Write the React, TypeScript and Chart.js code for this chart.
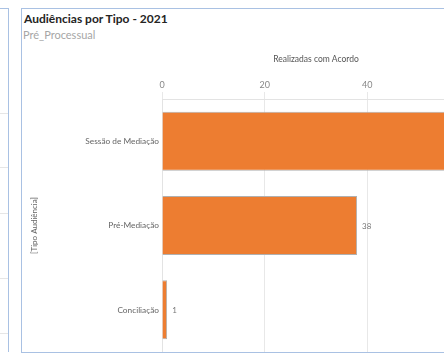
import React, { useEffect, useRef } from "react";
import { Chart, registerables } from "chart.js";

Chart.register(...registerables);

const categories = ["Sessão de Mediação", "Pré-Mediação", "Conciliação"];
const values = [57, 38, 1];
const xTicks = [0, 20, 40, 60];
const chartTitle = "Audiências por Tipo - 2021";
const chartSubtitle = "Pré_Processual";
const xAxisTitle = "Realizadas com Acordo";
const yAxisTitle = "[Tipo Audiência]";

const FONT = "Lato, 'Noto Sans', sans-serif";

const valueLabels = {
  id: "valueLabels",
  afterDatasetsDraw(chart: any) {
    const ctx = chart.ctx;
    const meta = chart.getDatasetMeta(0);
    ctx.save();
    ctx.font = `8px ${FONT}`;
    ctx.fillStyle = "#777";
    ctx.textAlign = "left";
    ctx.textBaseline = "middle";
    meta.data.forEach((bar: any, i: number) => {
      ctx.fillText(String(values[i]), bar.x + 5, bar.y + 1);
    });
    ctx.restore();
  },
};

export default function App() {
  const ref = useRef<HTMLCanvasElement>(null);
  useEffect(() => {
    if (!ref.current) return;
    const chart = new Chart(ref.current, {
      type: "bar",
      data: {
        labels: categories,
        datasets: [
          {
            data: values,
            backgroundColor: "#ED7D31",
            borderColor: "#b0b0b0",
            borderWidth: 1,
            categoryPercentage: 0.7,
            barPercentage: 1,
          },
        ],
      },
      options: {
        indexAxis: "y",
        animation: false,
        responsive: false,
        maintainAspectRatio: false,
        layout: { padding: 0 },
        plugins: { legend: { display: false }, tooltip: { enabled: false } },
        scales: {
          x: {
            position: "top",
            min: 0,
            max: 60,
            afterBuildTicks(axis: any) {
              axis.ticks = xTicks.map((v) => ({ value: v }));
            },
            ticks: { color: "#888", font: { family: FONT, size: 9 }, padding: 2 },
            grid: { color: "#e8e8e8", tickLength: 7 },
            border: { color: "#e3e3e3" },
            title: {
              display: true,
              text: xAxisTitle,
              color: "#555",
              font: { family: FONT, size: 8.5 },
              padding: { top: 0, bottom: 0 },
            },
            afterFit(axis: any) {
              axis.height = 45;
              axis.paddingLeft = 0;
              axis.paddingRight = 0;
            },
          },
          y: {
            grid: { display: false, drawTicks: false, tickLength: 0 },
            border: { color: "#e3e3e3" },
            ticks: { color: "#666", font: { family: FONT, size: 8.3 }, padding: 3 },
            title: {
              display: true,
              text: yAxisTitle,
              color: "#666",
              font: { family: FONT, size: 8 },
              padding: { top: 8, bottom: 0 },
            },
            afterFit(axis: any) {
              axis.width = 140;
              axis.paddingTop = 0;
              axis.paddingBottom = 0;
            },
          },
        },
      },
      plugins: [valueLabels],
    });
    return () => chart.destroy();
  }, []);

  const leftLines = [113, 167, 213, 278, 333];
  return (
    <div
      style={{
        position: "fixed",
        left: 0,
        top: 0,
        width: 444,
        height: 354,
        overflow: "hidden",
        background: "#fff",
        fontFamily: FONT,
      }}
    >
      <div style={{ position: "absolute", left: 0, top: 8, width: 8, height: 343, borderTop: "1px solid #a9c1e3", borderRight: "1px solid #a9c1e3" }} />
      {leftLines.map((y) => (
        <div key={y} style={{ position: "absolute", left: 0, top: y, width: 8, height: 1, background: "#e6e6e6" }} />
      ))}
      <div
        style={{
          position: "absolute",
          left: 21,
          top: 8,
          width: 500,
          height: 343,
          borderTop: "1px solid #a9c1e3",
          borderLeft: "1px solid #a9c1e3",
          borderBottom: "1px solid #a9c1e3",
          overflow: "hidden",
        }}
      >
        <div style={{ position: "absolute", left: 2, top: 2, fontSize: 12, fontWeight: 700, color: "#252423", whiteSpace: "nowrap" }}>
          {chartTitle}
        </div>
        <div style={{ position: "absolute", left: 1, top: 19, fontSize: 11, color: "#a6a6a6", whiteSpace: "nowrap" }}>
          {chartSubtitle}
        </div>
        <canvas
          ref={ref}
          width={448}
          height={298}
          style={{ position: "absolute", left: 0, top: 45, width: 448, height: 298 }}
        />
      </div>
    </div>
  );
}
